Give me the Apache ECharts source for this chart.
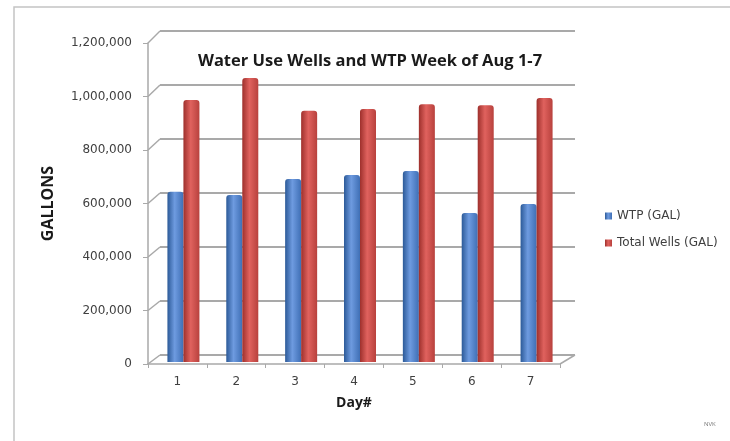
<!DOCTYPE html>
<html>
<head>
<meta charset="utf-8">
<script src="https://cdn.jsdelivr.net/npm/echarts@6/dist/echarts.min.js"></script>
<style>
  html, body { margin: 0; padding: 0; background: #fff; }
  #chart { width: 730px; height: 441px; }
</style>
</head>
<body>
<div id="chart"></div>
<script>
const days = ["1", "2", "3", "4", "5", "6", "7"];
const wtpGal = [636000, 624000, 684000, 699000, 714000, 557000, 591000];
const wellsGal = [979000, 1062000, 939000, 946000, 964000, 960000, 987000];
const yTicks = [0, 200000, 400000, 600000, 800000, 1000000, 1200000];

const chart = echarts.init(document.getElementById("chart"));
const FONT = "'Open Sans', 'Noto Sans', sans-serif";
const LFONT = "'DejaVu Sans', sans-serif";
const GRID_C = "#a9a9a9";

const cyl = (dark, mid, light) => ({
  type: "linear", x: 0, y: 0, x2: 1, y2: 0,
  colorStops: [
    { offset: 0, color: dark },
    { offset: 0.45, color: light },
    { offset: 1, color: mid },
  ],
});

const fmt = (v) => v.toLocaleString("en-US");

const option = {
  animation: false,
  backgroundColor: "#fff",
  color: ["#4a7ebb", "#be4b48"],
  title: {
    text: "Water Use Wells and WTP Week of Aug 1-7",
    left: 365, top: 48, textAlign: "center",
    textStyle: { fontFamily: FONT, fontSize: 16.5, fontWeight: "bold", color: "#1a1a1a" },
  },
  legend: {
    orient: "vertical",
    left: 600, top: 205,
    itemWidth: 7, itemHeight: 7, itemGap: 15,
    icon: "rect",
    textStyle: { fontFamily: LFONT, fontSize: 12, color: "#404040" },
    data: ["WTP (GAL)", "Total Wells (GAL)"],
  },
  grid: [
    { left: 148, top: 43, width: 412, height: 321 },   // front (labels)
    { left: 160, top: 31, width: 415, height: 324 },   // back wall
    { left: 154, top: 41, width: 412, height: 321 },   // bars
  ],
  xAxis: [
    {
      gridIndex: 0, type: "category", data: days,
      name: "Day#", nameLocation: "middle", nameGap: 32,
      nameTextStyle: { fontFamily: FONT, fontSize: 14, fontWeight: "bold", color: "#1a1a1a" },
      axisLine: { lineStyle: { color: GRID_C, width: 1.5 } },
      axisTick: { show: true, length: 4, lineStyle: { color: GRID_C } },
      axisLabel: { fontFamily: LFONT, fontSize: 12, color: "#404040", margin: 12 },
    },
    { gridIndex: 1, type: "category", data: days, show: false },
    { gridIndex: 2, type: "category", data: days, show: false },
  ],
  yAxis: [
    {
      gridIndex: 0, type: "value", min: 0, max: 1200000, interval: 200000,
      name: "GALLONS", nameLocation: "middle", nameGap: 92, nameRotate: 90,
      nameTextStyle: { fontFamily: FONT, fontSize: 16, fontWeight: "bold", color: "#1a1a1a" },
      axisLine: { show: true, lineStyle: { color: GRID_C, width: 1.5 } },
      axisTick: { show: true, length: 5, lineStyle: { color: GRID_C } },
      axisLabel: { fontFamily: LFONT, fontSize: 12, color: "#404040", margin: 16, formatter: fmt },
      splitLine: { show: false },
    },
    {
      gridIndex: 1, type: "value", min: 0, max: 1200000, interval: 200000,
      axisLine: { show: false }, axisTick: { show: false }, axisLabel: { show: false },
      splitLine: { show: true, lineStyle: { color: GRID_C, width: 2 } },
    },
    {
      gridIndex: 2, type: "value", min: 0, max: 1200000, show: false,
      splitLine: { show: false },
    },
  ],
  series: [
    {
      name: "WTP (GAL)", type: "bar", xAxisIndex: 2, yAxisIndex: 2,
      data: wtpGal, barWidth: 16, barGap: "0%",
      itemStyle: { color: cyl("#2c5a98", "#3f6fb5", "#6e9be0"), borderRadius: [3, 3, 0, 0] },
    },
    {
      name: "Total Wells (GAL)", type: "bar", xAxisIndex: 2, yAxisIndex: 2,
      data: wellsGal, barWidth: 16, barGap: "0%",
      itemStyle: { color: cyl("#9e302c", "#b8413d", "#e0625e"), borderRadius: [3, 3, 0, 0] },
    },
  ],
};

chart.setOption(option);

// side wall and floor edges, placed through the axis scales
const r0 = chart.getModel().getComponent("grid", 0).coordinateSystem.getRect();
const r1 = chart.getModel().getComponent("grid", 1).coordinateSystem.getRect();
const edge = (x1, y1, x2, y2) => ({
  type: "line", shape: { x1, y1, x2, y2 },
  style: { stroke: GRID_C, lineWidth: 1.5 }, silent: true,
});
const lines = yTicks.map((v) => {
  const f = chart.convertToPixel({ xAxisIndex: 0, yAxisIndex: 0 }, [0, v]);
  const b = chart.convertToPixel({ xAxisIndex: 1, yAxisIndex: 1 }, [0, v]);
  return edge(r0.x, f[1], r1.x, b[1]);
});
lines.push(edge(r0.x + r0.width, r0.y + r0.height, r1.x + r1.width, r1.y + r1.height));

chart.setOption({
  graphic: [
    { type: "rect", shape: { x: 14, y: 7, width: 740, height: 460 },
      style: { fill: null, stroke: "#c4c4c4", lineWidth: 1.5 }, silent: true, z: -1 },
    { type: "text", left: 704, top: 421,
      style: { text: "NVK", fontSize: 6, fill: "#777", fontFamily: FONT } },
    ...lines,
  ],
});
</script>
</body>
</html>
